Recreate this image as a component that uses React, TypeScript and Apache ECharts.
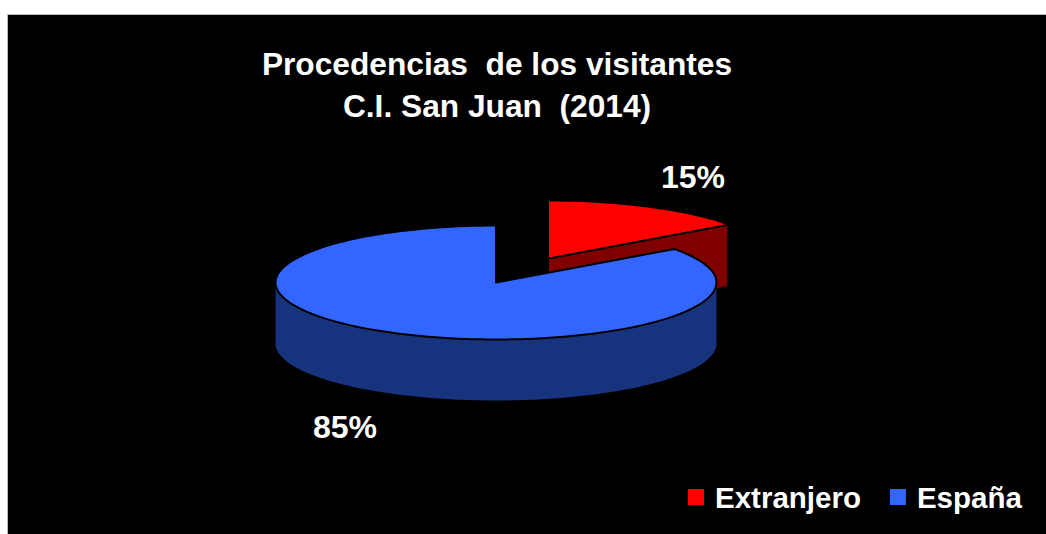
import React, { useEffect, useRef } from "react";
import * as echarts from "echarts";

const titleLines = ["Procedencias  de los visitantes", "C.I. San Juan  (2014)"];
const categories = ["Extranjero", "España"];
const percentages = [15, 85];
const topColors = ["#FF0000", "#3366FF"];
const wallColors = ["#800000", "#17337E"];
const outlineWidths = [0, 2];

const FONT = '"Liberation Sans", Arial, sans-serif';
const CENTER = { x: 496, y: 282.5 };
const RX = 220.5;
const RY = 57;
const DEPTH = 61;
const explode = [
  { x: 53, y: -24 },
  { x: 0, y: 0 },
];
const labelPos = [
  { x: 693, y: 177 },
  { x: 345, y: 427 },
];

const point = (cx: number, cy: number, deg: number) => {
  const a = (deg * Math.PI) / 180;
  return [cx + RX * Math.sin(a), cy - RY * Math.cos(a)];
};
const arc = (cx: number, cy: number, from: number, to: number) => {
  const out: number[][] = [];
  const steps = Math.max(1, Math.ceil(Math.abs(to - from) / 2));
  for (let i = 0; i <= steps; i++) out.push(point(cx, cy, from + ((to - from) * i) / steps));
  return out;
};

const renderSlice = (index: number) => (_params: any, api: any) => {
  const value = api.value(0);
  const total = percentages.reduce((s, v) => s + v, 0);
  const before = percentages.slice(0, index).reduce((s, v) => s + v, 0);
  const start = (before / total) * 360;
  const end = start + (value / total) * 360;
  const cx = CENTER.x + explode[index].x;
  const cy = CENTER.y + explode[index].y;
  const children: any[] = [];
  const wall = { fill: wallColors[index] };

  for (const deg of [start, end]) {
    const p = point(cx, cy, deg);
    children.push({
      type: "polygon",
      shape: { points: [[cx, cy], p, [p[0], p[1] + DEPTH], [cx, cy + DEPTH]] },
      style: wall,
    });
  }
  const from = Math.max(start, 90);
  const to = Math.min(end, 270);
  if (to > from) {
    const upper = arc(cx, cy, from, to);
    const lower = arc(cx, cy + DEPTH, from, to).reverse();
    children.push({ type: "polygon", shape: { points: [...upper, ...lower] }, style: wall });
  }
  const width = outlineWidths[index];
  children.push({
    type: "polygon",
    shape: { points: [[cx, cy], ...arc(cx, cy, start, end)] },
    style: width
      ? { fill: topColors[index], stroke: "#000000", lineWidth: width, lineJoin: "round" }
      : { fill: topColors[index] },
  });
  if (!width) {
    const tip = point(cx, cy, end);
    children.push({
      type: "line",
      shape: { x1: cx, y1: cy, x2: tip[0], y2: tip[1] },
      style: { stroke: "#000000", lineWidth: 2 },
    });
  }
  children.push({
    type: "text",
    x: labelPos[index].x,
    y: labelPos[index].y,
    style: {
      text: `${value}%`,
      fill: "#FFFFFF",
      fontFamily: FONT,
      fontSize: 32,
      fontWeight: "bold",
      align: "center",
      verticalAlign: "middle",
    },
  });
  return { type: "group", children };
};

export default function App() {
  const ref = useRef<HTMLDivElement>(null);
  useEffect(() => {
    document.body.style.margin = "0";
    const chart = echarts.init(ref.current!, null, { renderer: "svg" });
    chart.setOption({
      animation: false,
      backgroundColor: "#FFFFFF",
      graphic: [
        {
          type: "rect",
          z: -10,
          shape: { x: 7.5, y: 14.5, width: 1045, height: 525 },
          style: { fill: "#000000", stroke: "#BDBDBD", lineWidth: 1 },
        },
      ],
      title: {
        text: titleLines.join("\n"),
        left: 492,
        top: 38,
        textAlign: "center",
        textStyle: {
          color: "#FFFFFF",
          fontFamily: FONT,
          fontSize: 31.7,
          fontWeight: "bold",
          lineHeight: 42,
        },
      },
      legend: {
        data: categories,
        left: 688,
        top: 482,
        padding: 0,
        orient: "horizontal",
        icon: "rect",
        itemWidth: 16,
        itemHeight: 16,
        itemGap: 29,
        textStyle: {
          color: "#FFFFFF",
          fontFamily: FONT,
          fontSize: 29.5,
          fontWeight: "bold",
          padding: [0, 0, 0, 6],
        },
      },
      series: categories.map((name, i) => ({
        type: "custom",
        name,
        coordinateSystem: "none",
        silent: true,
        itemStyle: { color: topColors[i] },
        data: [[percentages[i]]],
        renderItem: renderSlice(i),
      })),
    });
    return () => chart.dispose();
  }, []);
  return <div ref={ref} style={{ width: 1046, height: 534 }} />;
}
